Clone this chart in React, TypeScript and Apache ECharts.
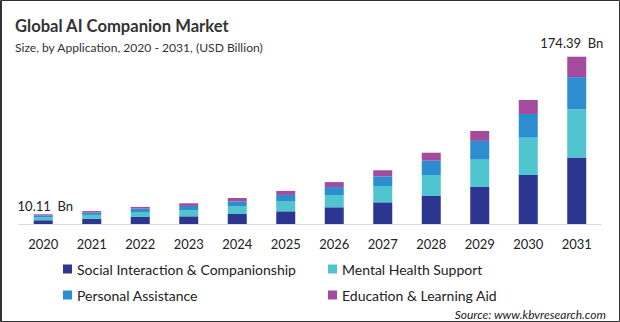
import React, { useEffect, useRef } from "react";
import * as echarts from "echarts";

const years = ["2020", "2021", "2022", "2023", "2024", "2025", "2026", "2027", "2028", "2029", "2030", "2031"];
const social = [3.9, 5.3, 7.3, 8.0, 10.4, 13.2, 17.4, 22.6, 29.2, 38.6, 51.1, 69.3];
const mental = [3.0, 4.2, 5.2, 6.3, 8.3, 10.8, 12.8, 17.0, 21.9, 28.5, 38.9, 50.4];
const personal = [2.2, 2.4, 3.5, 4.5, 4.9, 6.3, 8.3, 10.1, 14.9, 19.5, 24.7, 33.4];
const education = [1.01, 1.6, 1.8, 2.8, 3.5, 4.2, 5.2, 6.3, 8.3, 10.4, 14.6, 21.29];

const seriesNames = [
  "Social Interaction & Companionship",
  "Mental Health Support",
  "Personal Assistance",
  "Education & Learning Aid",
];
const colors = ["#2c3590", "#50c4cf", "#2d8ecf", "#a34c9e"];

const FONT = "Lato";

export default function App() {
  const ref = useRef<HTMLDivElement>(null);
  useEffect(() => {
    document.body.style.margin = "0";
    const chart = echarts.init(ref.current!, undefined, { renderer: "svg" });
    const totals = years.map((_, i) => social[i] + mental[i] + personal[i] + education[i]);
    const labelCfg: Record<number, { distance: number; offset: number[] }> = {
      0: { distance: 2, offset: [2, 0] },
      11: { distance: 7, offset: [-5, 0] },
    };
    const eduData = education.map((v, i) =>
      labelCfg[i]
        ? {
            value: v,
            label: {
              show: true,
              position: "top",
              distance: labelCfg[i].distance,
              offset: labelCfg[i].offset,
              formatter: () => totals[i].toFixed(2) + "  Bn",
              fontFamily: FONT,
              fontSize: 13,
              color: "#222",
            },
          }
        : v
    );
    const allData = [social, mental, personal, eduData];
    const legendPos = [
      { left: 58, top: 257 },
      { left: 323, top: 257 },
      { left: 58, top: 283 },
      { left: 323, top: 283 },
    ];
    chart.setOption({
      animation: false,
      textStyle: { fontFamily: FONT },
      title: [
        {
          text: "Global AI Companion Market",
          left: 10,
          top: 12,
          textStyle: { fontFamily: FONT, fontSize: 16.6, fontWeight: "bold", color: "#333" },
        },
        {
          text: "Size, by Application, 2020 - 2031, (USD Billion)",
          left: 10,
          top: 36,
          textStyle: { fontFamily: FONT, fontSize: 12.1, fontWeight: "normal", color: "#333" },
        },
        {
          text: "Source: www.kbvresearch.com",
          right: 9,
          top: 303,
          textStyle: { fontFamily: FONT, fontSize: 12, fontStyle: "italic", fontWeight: "normal", color: "#222" },
        },
      ],
      legend: seriesNames.map((n, i) => ({
        data: [n],
        left: legendPos[i].left,
        top: legendPos[i].top,
        itemWidth: 9,
        itemHeight: 9,
        icon: "rect",
        selectedMode: false,
        textStyle: { fontFamily: FONT, fontSize: 14, color: "#222" },
      })),
      grid: { left: 19, right: 19, top: 40, bottom: 98 },
      xAxis: {
        type: "category",
        data: years,
        axisLine: { lineStyle: { color: "#d9d9d9", width: 1 } },
        axisTick: { show: false },
        axisLabel: { fontFamily: FONT, fontSize: 13, color: "#222", margin: 13 },
      },
      yAxis: { type: "value", min: 0, max: 191.8, show: false, splitLine: { show: false } },
      series: seriesNames.map((n, i) => ({
        name: n,
        type: "bar",
        stack: "total",
        barWidth: 19,
        data: allData[i],
        itemStyle: { color: colors[i] },
      })),
      graphic: [
        {
          type: "rect",
          shape: { x: 0.5, y: 0.5, width: 619, height: 321 },
          style: { fill: "none", stroke: "#333", lineWidth: 1 },
          silent: true,
        },
        {
          type: "line",
          shape: { x1: 1.5, y1: 0, x2: 1.5, y2: 322 },
          style: { stroke: "#333", lineWidth: 1 },
          silent: true,
        },
      ],
    });
    return () => chart.dispose();
  }, []);
  return <div ref={ref} style={{ width: 620, height: 322 }} />;
}
